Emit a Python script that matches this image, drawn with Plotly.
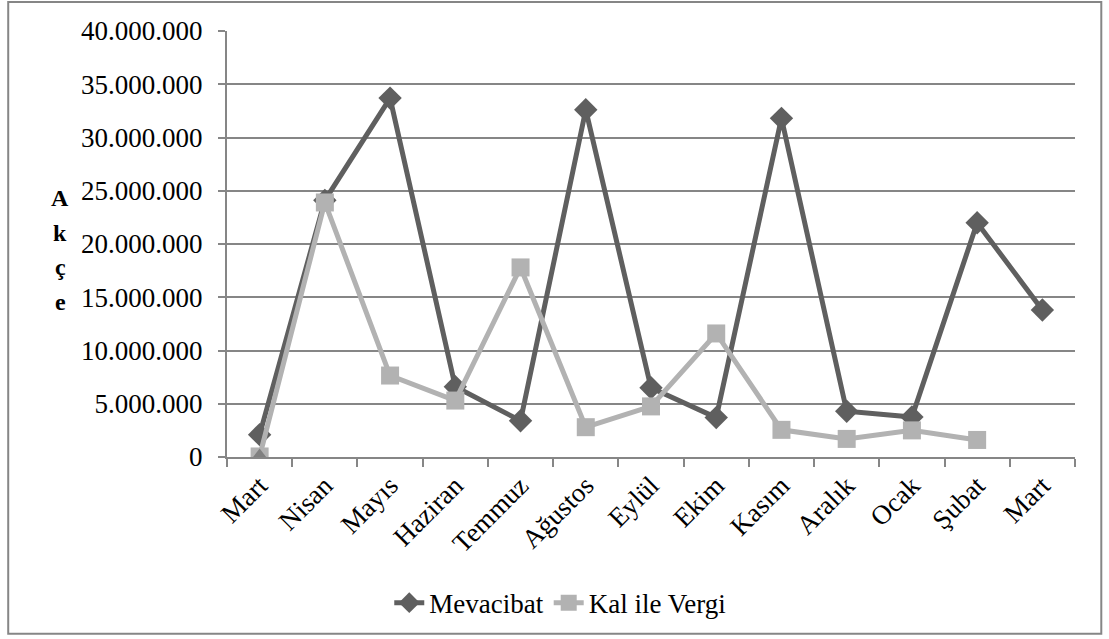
import plotly.graph_objects as go

months = ["Mart", "Nisan", "Mayıs", "Haziran", "Temmuz", "Ağustos", "Eylül",
          "Ekim", "Kasım", "Aralık", "Ocak", "Şubat", "Mart"]
mevacibat = [2100000, 24100000, 33700000, 6600000, 3400000, 32600000, 6500000,
             3700000, 31800000, 4300000, 3750000, 22000000, 13800000]
kal_ile_vergi = [50000, 23900000, 7650000, 5300000, 17800000, 2800000, 4750000,
                 11600000, 2550000, 1700000, 2500000, 1600000, None]
third_series = [0]
y_ticks = [0, 5000000, 10000000, 15000000, 20000000, 25000000, 30000000, 35000000, 40000000]
y_tick_labels = ["0", "5.000.000", "10.000.000", "15.000.000", "20.000.000",
                 "25.000.000", "30.000.000", "35.000.000", "40.000.000"]

xs = list(range(len(months)))
FONT = "Liberation Serif, Times New Roman, serif"
FS = 27

fig = go.Figure()
fig.add_trace(go.Scatter(
    x=xs, y=mevacibat, name="Mevacibat", mode="lines+markers",
    line=dict(color="#5f5f5f", width=5),
    marker=dict(symbol="diamond", size=18, color="#5f5f5f"),
))
fig.add_trace(go.Scatter(
    x=xs, y=kal_ile_vergi, name="Kal ile Vergi", mode="lines+markers",
    line=dict(color="#b2b2b2", width=5),
    marker=dict(symbol="square", size=18, color="#b2b2b2"),
))
fig.add_trace(go.Scatter(
    x=xs[:1], y=third_series, showlegend=False, mode="markers",
    marker=dict(symbol="triangle-up", size=17, color="#808080"),
))

fig.update_layout(
    width=1109, height=639,
    margin=dict(l=227, r=34, t=31, b=182),
    paper_bgcolor="white", plot_bgcolor="white",
    font=dict(family=FONT, size=FS, color="black"),
    showlegend=True,
    legend=dict(orientation="h", x=0.393, xanchor="center", y=-0.343, yanchor="middle",
                font=dict(family=FONT, size=FS), traceorder="normal"),
    xaxis=dict(
        range=[-0.5, 12.5], tickmode="array", tickvals=xs, ticktext=months,
        tickangle=-45, ticks="", showgrid=False, zeroline=False,
        showline=True, linecolor="#868686", linewidth=2,
        tickfont=dict(family=FONT, size=FS),
        minor=dict(tickmode="linear", tick0=-0.5, dtick=1, ticks="outside",
                   ticklen=8, tickcolor="#868686", tickwidth=2, showgrid=False),
    ),
    yaxis=dict(
        range=[0, 40000000], tickmode="array", tickvals=y_ticks, ticktext=y_tick_labels,
        ticks="outside", ticklen=7, tickcolor="#868686", tickwidth=2,
        ticklabelstandoff=10,
        showgrid=True, gridcolor="#868686", gridwidth=1.5,
        zeroline=False, showline=True, linecolor="#868686", linewidth=2,
        tickfont=dict(family=FONT, size=FS),
    ),
    shapes=[dict(type="rect", xref="paper", yref="paper",
                 x0=-0.258, x1=1.031, y0=-0.415, y1=1.068,
                 line=dict(color="#868686", width=2))],
)

for i, ch in enumerate(["A", "k", "ç", "e"]):
    fig.add_annotation(xref="paper", yref="paper", x=(60 - 227) / 848,
                       y=(457 - (198 + i * 34.5)) / 426,
                       xanchor="center", yanchor="middle",
                       text="<b>%s</b>" % ch, showarrow=False,
                       font=dict(family=FONT, size=24, color="black"))

fig.write_html("out.html", config={"displayModeBar": False},
               post_script="document.body.style.margin='0';")
